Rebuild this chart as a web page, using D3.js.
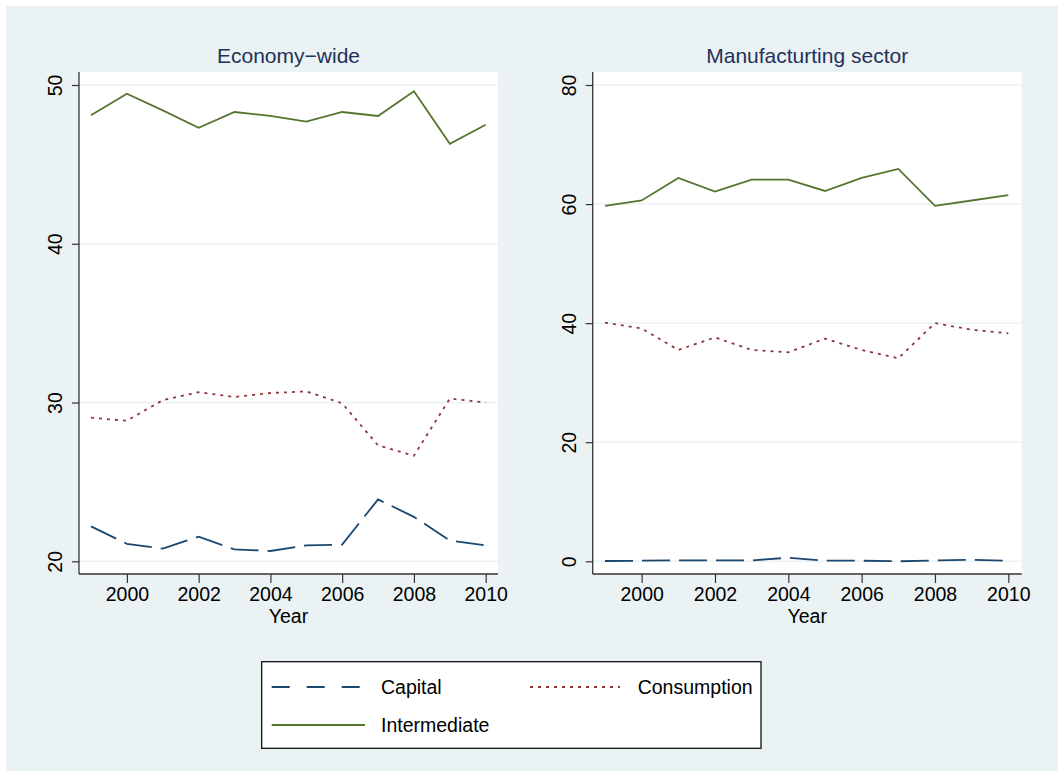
<!DOCTYPE html>
<html>
<head>
<meta charset="utf-8">
<script src="https://cdn.jsdelivr.net/npm/d3@7"></script>
<style>
  html, body { margin: 0; padding: 0; background: #ffffff; }
  svg { display: block; }
  text { font-family: "Liberation Sans", Arial, sans-serif; }
</style>
</head>
<body>
<svg id="chart" width="1058" height="771"></svg>
<script>
// Years shown on both panels
const years = [1999, 2000, 2001, 2002, 2003, 2004, 2005, 2006, 2007, 2008, 2009, 2010];
const xTicks = [2000, 2002, 2004, 2006, 2008, 2010];

// Economy-wide shares (%)
const econCapital      = [22.2, 21.1, 20.8, 21.55, 20.75, 20.65, 21.0, 21.05, 23.9, 22.8, 21.3, 21.0];
const econConsumption  = [29.05, 28.85, 30.15, 30.65, 30.35, 30.6, 30.7, 29.95, 27.3, 26.65, 30.25, 30.0];
const econIntermediate = [48.1, 49.45, 48.4, 47.3, 48.3, 48.05, 47.7, 48.3, 48.05, 49.6, 46.3, 47.5];
const econTicks = [20, 30, 40, 50];

// Manufacturing sector shares (%)
const mfgCapital      = [0.05, 0.1, 0.15, 0.15, 0.15, 0.6, 0.1, 0.1, 0.0, 0.15, 0.25, 0.1];
const mfgConsumption  = [40.1, 39.1, 35.5, 37.6, 35.5, 35.1, 37.4, 35.5, 34.1, 40.0, 38.9, 38.3];
const mfgIntermediate = [59.7, 60.6, 64.4, 62.1, 64.1, 64.1, 62.2, 64.4, 65.9, 59.7, 60.6, 61.5];
const mfgTicks = [0, 20, 40, 60, 80];

const seriesNames = ["Capital", "Consumption", "Intermediate"];

const colors = { Capital: "#1a476f", Consumption: "#90353b", Intermediate: "#55752f" };
const dashes = { Capital: "28,9", Consumption: "3,5", Intermediate: null };

const svg = d3.select("#chart");

// Graph region background
svg.append("rect")
  .attr("x", 6).attr("y", 6).attr("width", 1052).attr("height", 765)
  .attr("fill", "#eaf2f3");

const panels = [
  {
    title: "Economy\u2212wide",
    left: 79, right: 498, top: 72, bottom: 574,
    xDomain: [1999, 2010], xRange: [91, 485.7],
    yDomain: [20, 50], yRange: [561.3, 85],
    yTicks: econTicks,
    data: { Capital: econCapital, Consumption: econConsumption, Intermediate: econIntermediate }
  },
  {
    title: "Manufacturting sector",
    left: 592.7, right: 1021.7, top: 72, bottom: 574,
    xDomain: [1999, 2010], xRange: [605, 1008.3],
    yDomain: [0, 80], yRange: [561.3, 85],
    yTicks: mfgTicks,
    data: { Capital: mfgCapital, Consumption: mfgConsumption, Intermediate: mfgIntermediate }
  }
];

panels.forEach(p => {
  const x = d3.scaleLinear().domain(p.xDomain).range(p.xRange);
  const y = d3.scaleLinear().domain(p.yDomain).range(p.yRange);
  const g = svg.append("g");

  // Plot region
  g.append("rect")
    .attr("x", p.left).attr("y", p.top)
    .attr("width", p.right - p.left).attr("height", p.bottom - p.top)
    .attr("fill", "#ffffff");

  // Horizontal grid
  g.selectAll(".grid").data(p.yTicks).enter().append("line")
    .attr("x1", p.left).attr("x2", p.right)
    .attr("y1", d => y(d)).attr("y2", d => y(d))
    .attr("stroke", "#eaf2f3").attr("stroke-width", 1.5);

  // Panel subtitle
  g.append("text")
    .attr("x", (p.left + p.right) / 2).attr("y", 63)
    .attr("text-anchor", "middle")
    .attr("font-size", 21)
    .attr("fill", "#22315a")
    .text(p.title);

  // Y axis
  const yAxis = d3.axisLeft(y).tickValues(p.yTicks).tickSize(7).tickFormat(d3.format("d"));
  const ya = g.append("g").attr("transform", `translate(${p.left},0)`).call(yAxis);
  ya.select(".domain").remove();
  ya.selectAll(".tick line").attr("stroke", "#333").attr("stroke-width", 1.2);
  ya.selectAll(".tick text")
    .attr("x", null).attr("dy", null)
    .attr("transform", "translate(-17,0) rotate(-90)")
    .attr("text-anchor", "middle")
    .attr("font-size", 19.5)
    .attr("fill", "#000")
    .attr("font-family", "Liberation Sans, Arial, sans-serif");
  g.append("line")
    .attr("x1", p.left).attr("x2", p.left)
    .attr("y1", p.top).attr("y2", p.bottom)
    .attr("stroke", "#333").attr("stroke-width", 1.3);

  // X axis
  const xAxis = d3.axisBottom(x).tickValues(xTicks).tickSize(9).tickFormat(d3.format("d"));
  const xa = g.append("g").attr("transform", `translate(0,${p.bottom})`).call(xAxis);
  xa.select(".domain").remove();
  xa.selectAll(".tick line").attr("stroke", "#333").attr("stroke-width", 1.2);
  xa.selectAll(".tick text")
    .attr("y", 27).attr("dy", null)
    .attr("font-size", 19.5)
    .attr("fill", "#000")
    .attr("font-family", "Liberation Sans, Arial, sans-serif");
  g.append("line")
    .attr("x1", p.left).attr("x2", p.right)
    .attr("y1", p.bottom).attr("y2", p.bottom)
    .attr("stroke", "#333").attr("stroke-width", 1.3);

  g.append("text")
    .attr("x", (p.left + p.right) / 2).attr("y", 623)
    .attr("text-anchor", "middle")
    .attr("font-size", 19.5)
    .attr("fill", "#000")
    .text("Year");

  // Series lines
  const line = d3.line().x((d, i) => x(years[i])).y(d => y(d));
  seriesNames.forEach(name => {
    g.append("path")
      .datum(p.data[name])
      .attr("d", line)
      .attr("fill", "none")
      .attr("stroke", colors[name])
      .attr("stroke-width", 1.8)
      .attr("stroke-dasharray", dashes[name]);
  });
});

// Legend
const legend = svg.append("g");
legend.append("rect")
  .attr("x", 261.7).attr("y", 661.7).attr("width", 499.3).attr("height", 86.6)
  .attr("fill", "#ffffff").attr("stroke", "#000").attr("stroke-width", 1.2);

const legendItems = [
  { name: "Capital",      x1: 271.7, x2: 365, tx: 381,   y: 687, dash: "18,17" },
  { name: "Consumption",  x1: 530,   x2: 620, tx: 637.7, y: 687, dash: "3,5" },
  { name: "Intermediate", x1: 271.7, x2: 365, tx: 381,   y: 725, dash: null }
];
legendItems.forEach(it => {
  legend.append("line")
    .attr("x1", it.x1).attr("x2", it.x2).attr("y1", it.y).attr("y2", it.y)
    .attr("stroke", colors[it.name]).attr("stroke-width", 1.8)
    .attr("stroke-dasharray", it.dash);
  legend.append("text")
    .attr("x", it.tx).attr("y", it.y + 7)
    .attr("font-size", 19.5).attr("fill", "#000")
    .text(it.name);
});
</script>
</body>
</html>
